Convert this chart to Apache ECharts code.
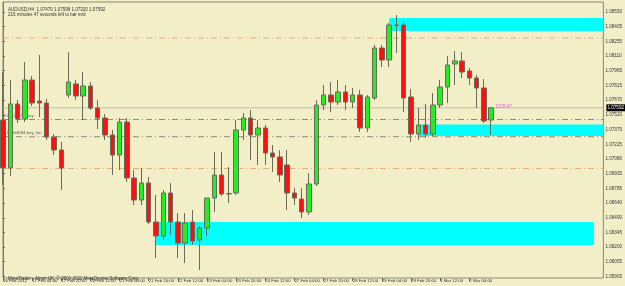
<!DOCTYPE html>
<html><head><meta charset="utf-8">
<script src="https://cdn.jsdelivr.net/npm/echarts@6/dist/echarts.min.js"></script>
<style>html,body{margin:0;padding:0;background:#F1EEC8}#c{width:625px;height:286px}</style>
</head><body><div id="c"></div>
<script>
// time labels every 4 H4 bars
const timeLabels = ['16 Feb 2012','17 Feb 04:00','17 Feb 20:00','20 Feb 12:00','21 Feb 04:00','21 Feb 20:00','22 Feb 12:00','23 Feb 04:00','23 Feb 20:00','24 Feb 12:00','27 Feb 04:00','27 Feb 20:00','28 Feb 12:00','29 Feb 04:00','29 Feb 20:00','1 Mar 12:00','2 Mar 04:00'];
const opens  = [1.0747,1.0699,1.0763,1.0748,1.0787,1.0766,1.0764,1.0730,1.0717,1.0772,1.0783,1.0771,1.0781,1.0759,1.0749,1.0732,1.0712,1.0745,1.0689,1.0667,1.0684,1.0645,1.0631,1.0674,1.0645,1.0624,1.0645,1.0627,1.0639,1.0669,1.0692,1.0673,1.0674,1.0737,1.0749,1.0732,1.0739,1.0714,1.0710,1.0702,1.0674,1.0668,1.0655,1.0683,1.0762,1.0772,1.0765,1.0775,1.0765,1.0772,1.0739,1.0769,1.0819,1.0807,1.0842,1.0842,1.0770,1.0733,1.0742,1.0733,1.0762,1.0780,1.0803,1.0806,1.0796,1.0789,1.0779,1.07470];
const closes = [1.0699,1.0763,1.0748,1.0787,1.0764,1.0764,1.0730,1.0717,1.0699,1.0785,1.0771,1.0781,1.0759,1.0749,1.0732,1.0712,1.0745,1.0689,1.0667,1.0684,1.0645,1.0631,1.0674,1.0645,1.0624,1.0644,1.0626,1.0639,1.0669,1.0692,1.0673,1.06735,1.0737,1.0749,1.0732,1.0739,1.0714,1.0710,1.0692,1.0674,1.0669,1.0655,1.0683,1.0762,1.0772,1.0765,1.0775,1.0765,1.0772,1.0739,1.0770,1.0819,1.0807,1.0842,1.08415,1.0769,1.0733,1.0742,1.0733,1.0762,1.0780,1.0802,1.0806,1.0795,1.0789,1.0779,1.0746,1.07592];
const highs  = [1.0795,1.0787,1.0767,1.0805,1.0791,1.0812,1.0768,1.0733,1.0725,1.0815,1.0787,1.0795,1.0785,1.0767,1.0753,1.0737,1.0749,1.0749,1.0697,1.0699,1.0690,1.0672,1.0677,1.0684,1.0654,1.0654,1.0657,1.0641,1.0669,1.0715,1.0715,1.0700,1.0747,1.0754,1.0757,1.0747,1.0742,1.0722,1.0717,1.0717,1.0679,1.0679,1.0694,1.0767,1.0782,1.0785,1.0787,1.0782,1.0779,1.0777,1.0772,1.0822,1.0822,1.0844,1.0852,1.0845,1.0778,1.0759,1.0763,1.0774,1.0787,1.0811,1.0816,1.0815,1.0799,1.0792,1.0788,1.07598];
const lows   = [1.0682,1.0691,1.0744,1.0745,1.0761,1.0750,1.0727,1.0712,1.0677,1.0769,1.0767,1.0747,1.0757,1.0738,1.0727,1.0692,1.0697,1.0685,1.0662,1.0662,1.0643,1.0609,1.0627,1.0632,1.0609,1.0604,1.0622,1.0597,1.0631,1.0655,1.0671,1.0664,1.0672,1.0727,1.0707,1.0702,1.0702,1.0695,1.0685,1.0657,1.0662,1.0649,1.0652,1.0681,1.0757,1.0755,1.0762,1.0757,1.0759,1.0735,1.0735,1.0767,1.0800,1.0800,1.0814,1.0755,1.0725,1.0727,1.0729,1.0731,1.0759,1.0764,1.0782,1.0789,1.0782,1.0759,1.0744,1.07320];
const priceTickLabels = ['1.08550','1.08405','1.08255','1.08110','1.07965','1.07815','1.07670','1.07520','1.07375','1.07225','1.07080','1.06935','1.06785','1.06640','1.06490','1.06345','1.06200','1.06055','1.05905'];
// rectangles: start bar, end bar, top price, bottom price
const zoneStart = [53, 57, 21];
const zoneEnd   = [82.4, 82.4, 81.1];
const zoneTop   = [1.0849, 1.07425, 1.06450];
const zoneBot   = [1.0836, 1.07310, 1.06220];
const orangeLevels = [1.0829, 1.06985];
const orderLevels = [1.07475, 1.07303];
const orderTexts = ['#20149434 buy', '#20004094 buy_lim'];
const lastPrice = 1.07592;
const commentText = '1278.47';

const X_END = 82.4;
const chart = echarts.init(document.getElementById('c'), null, {renderer:'canvas'});
const priceTicks = priceTickLabels.map(Number);
const timeTicks = timeLabels.map((_, i) => i * 4);
const candles = opens.map((o, i) => [i, o, closes[i], lows[i], highs[i]]);
const FONT = 'Liberation Sans';
const zoneData = zoneStart.map((s, i) => [
  {xAxis: s, yAxis: zoneTop[i]}, {xAxis: zoneEnd[i], yAxis: zoneBot[i]}
]);
const levelSeries = [];
orangeLevels.forEach(v => levelSeries.push({type:'line', silent:true, z:2, symbol:'none', animation:false,
  data:[[0, v], [X_END, v]], lineStyle:{color:'#F0A878', type:[6,3,1,3], width:1}}));
orderLevels.forEach((v, i) => levelSeries.push({type:'line', silent:true, z:2, symbol:'circle', symbolSize:0, showSymbol:true,
  data:[{value:[0, v], label:{show:true, position:[1,-6], formatter: orderTexts[i], fontSize:4.3, color:'#555', fontFamily:FONT}}, [X_END, v]],
  lineStyle:{color:'#8E8C78', type:[6,3,1,3], width:1}}));
levelSeries.push({type:'line', silent:true, z:2, symbol:'none',
  data:[[0, lastPrice], [X_END, lastPrice]], lineStyle:{color:'#C4C0A8', type:'solid', width:1},
  endLabel:{show:true, formatter: lastPrice.toFixed(5), fontSize:4.6, color:'#fff', backgroundColor:'#000', padding:[1,1], distance:3, fontFamily:FONT}});

chart.setOption({
  animation: false,
  backgroundColor: '#F1EEC8',
  title: [
    {text:'AUDUSD,H4  1.07470 1.07598 1.07320 1.07592', left:3, top:2, textStyle:{fontSize:4.5, fontWeight:'normal', color:'#333', fontFamily:FONT}},
    {text:'216 minutes 47 seconds left to bar end', left:3, top:7, textStyle:{fontSize:4.5, fontWeight:'normal', color:'#333', fontFamily:FONT}},
    {text:'MetaTrader - Alpari UK, © 2001-2011 MetaQuotes Software Corp.', left:3, top:271.5, textStyle:{fontSize:4.5, fontWeight:'normal', color:'#333', fontFamily:FONT}}
  ],
  grid: {left:1.7, right:18.5, top:2, bottom:8, show:true, borderColor:'#8A8878', borderWidth:1, backgroundColor:'transparent'},
  xAxis: {type:'value', min:0, max:X_END, splitLine:{show:false},
    axisLine:{show:false},
    axisTick:{show:true, customValues: timeTicks, length:3, lineStyle:{color:'#666'}},
    axisLabel:{show:true, customValues: timeTicks, formatter: v => timeLabels[Math.round(v/4)] || '', align:'left', margin:1, fontSize:4.3, color:'#333', fontFamily:FONT}
  },
  yAxis: {type:'value', position:'right', min:1.0589, max:1.0865, scale:true, splitLine:{show:false},
    axisLine:{show:true, lineStyle:{color:'#777'}},
    axisTick:{show:true, customValues: priceTicks, length:2, lineStyle:{color:'#666'}},
    axisLabel:{show:true, customValues: priceTicks, formatter: v => { const i = priceTicks.findIndex(t => Math.abs(t - v) < 1e-7); return i >= 0 ? priceTickLabels[i] : ''; }, margin:2, fontSize:4.6, color:'#333', fontFamily:FONT}
  },
  series: [
    {type:'line', data:[], z:1, silent:true,
      markArea:{silent:true, itemStyle:{color:'#00FFFF', opacity:1}, data: zoneData}
    },
    ...levelSeries,
    {type:'candlestick', z:3, data: candles, encode:{x:0, y:[1,2,3,4]}, barWidth:5, clip:true,
      itemStyle:{color:'#22EE22', color0:'#FF1010', borderColor:'#6A6A58', borderColor0:'#6A6A58', borderWidth:1},
      markPoint:{silent:true, symbol:'circle', symbolSize:0, data:[{coord:[67.6, 1.0760], label:{show:true, position:'right', distance:0, formatter: commentText, color:'#E060E0', fontSize:4.5, fontFamily:FONT}}]}
    }
  ]
});
</script></body></html>
